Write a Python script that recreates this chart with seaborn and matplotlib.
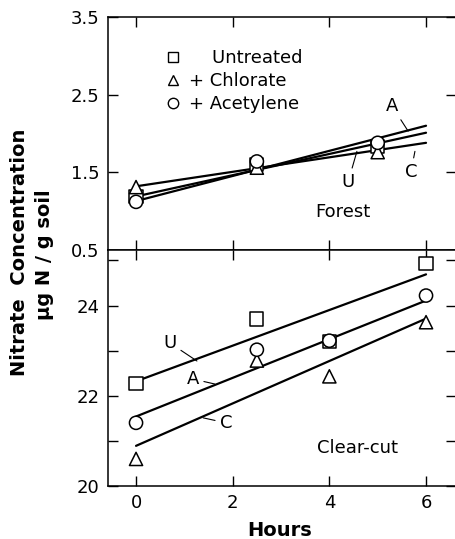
import numpy as np
import pandas as pd
import matplotlib
matplotlib.use("Agg")
import matplotlib.pyplot as plt
from matplotlib.lines import Line2D
from matplotlib.ticker import FixedLocator
import seaborn as sns

# ---------------- data ----------------
treatments = ["Untreated", "+ Chlorate", "+ Acetylene"]

hours_forest = [0, 2.5, 5]
forest_untreated = [1.19, 1.60, 1.83]
forest_chlorate = [1.31, 1.56, 1.76]
forest_acetylene = [1.12, 1.64, 1.88]

hours_clearcut = [0, 2.5, 4, 6]
clearcut_untreated = [22.27, 23.70, 23.21, 24.93]
clearcut_chlorate = [20.60, 22.78, 22.43, 23.63]
clearcut_acetylene = [21.40, 23.02, 23.22, 24.22]

fit_hours = [0, 6]
forest_fit_untreated = [1.19, 2.01]
forest_fit_chlorate = [1.32, 1.88]
forest_fit_acetylene = [1.13, 2.10]
clearcut_fit_untreated = [22.32, 24.69]
clearcut_fit_chlorate = [20.89, 23.71]
clearcut_fit_acetylene = [21.54, 24.11]

x_ticks = [0, 2, 4, 6]
forest_yticks = [0.5, 1.5, 2.5, 3.5]
clearcut_yticks = [20, 22, 24]
clearcut_minor = [21, 23, 25]

# ---------------- tables ----------------
def points(hours, u, c, a):
    return pd.DataFrame({
        "Hours": list(hours) * 3,
        "value": list(u) + list(c) + list(a),
        "treatment": [treatments[0]] * len(u) + [treatments[1]] * len(c) + [treatments[2]] * len(a),
    })

forest_pts = points(hours_forest, forest_untreated, forest_chlorate, forest_acetylene)
clear_pts = points(hours_clearcut, clearcut_untreated, clearcut_chlorate, clearcut_acetylene)
forest_fit = points(fit_hours, forest_fit_untreated, forest_fit_chlorate, forest_fit_acetylene)
clear_fit = points(fit_hours, clearcut_fit_untreated, clearcut_fit_chlorate, clearcut_fit_acetylene)

# ---------------- style ----------------
sns.set_style("ticks")
plt.rcParams["font.family"] = ["DejaVu Sans"]
plt.rcParams.update({
    "axes.linewidth": 1.1, "text.color": "black", "axes.labelcolor": "black",
    "xtick.color": "black", "ytick.color": "black", "axes.edgecolor": "black",
})

W, H = 455, 539
fig = plt.figure(figsize=(W / 100, H / 100), dpi=100)
left, right = 108, 456
ax1 = fig.add_axes([left / W, 1 - 250 / H, (right - left) / W, (250 - 17) / H])
ax2 = fig.add_axes([left / W, 1 - 486 / H, (right - left) / W, (486 - 250) / H])

markers = {treatments[0]: "s", treatments[1]: "^", treatments[2]: "o"}
black = {t: "black" for t in treatments}

for ax, pts, fit in [(ax1, forest_pts, forest_fit), (ax2, clear_pts, clear_fit)]:
    sns.lineplot(data=fit, x="Hours", y="value", hue="treatment", palette=black,
                 lw=1.6, legend=False, ax=ax, zorder=2)
    sns.scatterplot(data=pts, x="Hours", y="value", style="treatment", markers=markers,
                    s=90, color="white", edgecolor="black", linewidth=1.1,
                    legend=False, ax=ax, zorder=3)
    ax.set_xlim(-0.58, 6.62)
    ax.set_xlabel("")
    ax.set_ylabel("")
    ax.set_xticks(x_ticks)
    ax.tick_params(axis="both", which="both", direction="in", length=7.5, width=1.0,
                   top=True, bottom=True, left=True, right=True, labelsize=13, pad=6,
                   colors="black")
    for s in ax.spines.values():
        s.set_linewidth(1.1)
        s.set_color("black")
    ax.spines["right"].set_visible(False)

ax1.set_ylim(0.5, 3.5)
ax1.set_yticks(forest_yticks)
ax1.set_yticklabels([str(v) for v in forest_yticks])
ax1.tick_params(axis="x", labelbottom=False)

ax2.set_ylim(20, 25.23)
ax2.set_yticks(clearcut_yticks)
ax2.yaxis.set_minor_locator(FixedLocator(clearcut_minor))
ax2.set_xticklabels([str(v) for v in x_ticks])

# legend
handles = [Line2D([], [], ls="none", marker=markers[t], markersize=7.5, mfc="white",
                  mec="black", mew=1.0) for t in treatments]
labels = ["    Untreated", "+ Chlorate", "+ Acetylene"]
leg = ax1.legend(handles, labels, loc="upper left", bbox_to_anchor=(164 / W, 1 - 49 / H),
                 bbox_transform=fig.transFigure, frameon=False, handlelength=1.0,
                 handletextpad=0.4, labelspacing=0.28, borderpad=0, borderaxespad=0,
                 fontsize=13)

# line labels
ann = dict(arrowprops=dict(arrowstyle="-", lw=0.8, color="black", shrinkA=1, shrinkB=0),
           fontsize=13, ha="center", va="center")
ax1.annotate("A", xy=(5.63, 2.03), xytext=(5.30, 2.35), **ann)
ax1.annotate("C", xy=(5.77, 1.77), xytext=(5.69, 1.51), **ann)
ax1.annotate("U", xy=(4.57, 1.77), xytext=(4.39, 1.38), **ann)
ax1.text(4.28, 0.985, "Forest", fontsize=13, ha="center", va="center")

ax2.annotate("U", xy=(1.26, 22.77), xytext=(0.70, 23.17), **ann)
ax2.annotate("A", xy=(1.63, 22.26), xytext=(1.18, 22.37), **ann)
ax2.annotate("C", xy=(1.39, 21.51), xytext=(1.86, 21.40), **ann)
ax2.text(4.59, 20.84, "Clear-cut", fontsize=13, ha="center", va="center")

# axis titles
fig.text(20 / W, 1 - 252 / H, "Nitrate  Concentration", rotation=90, ha="center",
         va="center", fontsize=14, fontweight="bold")
fig.text(45 / W, 1 - 255 / H, "\u03bcg N / g soil", rotation=90, ha="center",
         va="center", fontsize=14, fontweight="bold")
fig.text(280 / W, 1 - 530 / H, "Hours", ha="center", va="center", fontsize=14,
         fontweight="bold")

fig.savefig("out.png", dpi=100)
